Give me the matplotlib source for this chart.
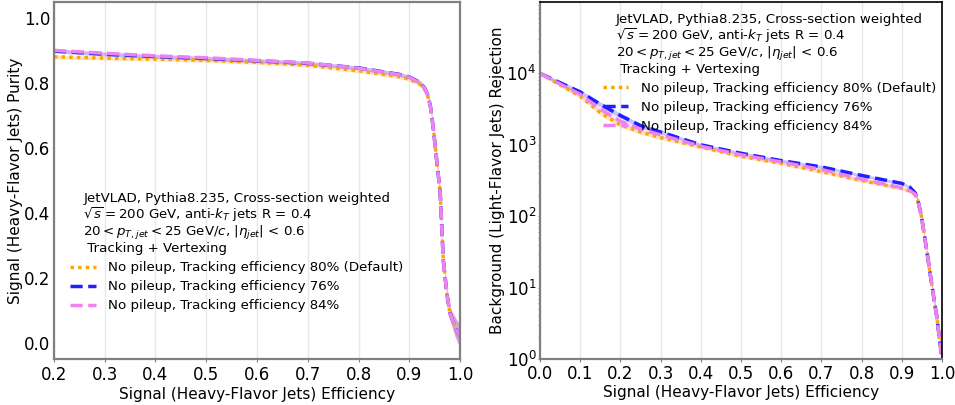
import numpy as np
import matplotlib
matplotlib.use("Agg")
import matplotlib.pyplot as plt

# ---- Purity vs. signal efficiency ----
eff_pur = [0.20, 0.30, 0.40, 0.50, 0.60, 0.70, 0.80, 0.88, 0.90, 0.92, 0.93,
           0.937, 0.942, 0.947, 0.954, 0.961, 0.964, 0.967, 0.974, 0.980, 0.990, 1.00]
pur_default = [0.881, 0.877, 0.874, 0.870, 0.864, 0.855, 0.838, 0.820, 0.812, 0.798, 0.782,
               0.758, 0.724, 0.666, 0.563, 0.461, 0.358, 0.255, 0.153, 0.091, 0.050, 0.019]
pur_eff76 = [0.899, 0.889, 0.882, 0.876, 0.869, 0.861, 0.847, 0.827, 0.819, 0.803, 0.786,
             0.761, 0.726, 0.666, 0.563, 0.461, 0.358, 0.255, 0.153, 0.091, 0.050, 0.019]
pur_eff84 = [0.901, 0.892, 0.884, 0.878, 0.870, 0.862, 0.846, 0.826, 0.818, 0.802, 0.785,
             0.760, 0.725, 0.666, 0.563, 0.461, 0.358, 0.255, 0.153, 0.091, 0.050, 0.019]
pur_unc = [0.006, 0.006, 0.006, 0.006, 0.006, 0.006, 0.006, 0.006, 0.006, 0.007, 0.008,
           0.008, 0.009, 0.010, 0.010, 0.010, 0.010, 0.010, 0.012, 0.018, 0.030, 0.035]

# ---- Light-flavor rejection vs. signal efficiency ----
eff_rej = [0.00, 0.05, 0.10, 0.15, 0.20, 0.25, 0.30, 0.40, 0.50, 0.60, 0.70, 0.80,
           0.90, 0.92, 0.933, 0.940, 0.949, 0.962, 0.974, 0.987, 1.00]
rej_default = [10000, 6900, 4800, 2820, 1900, 1510, 1260, 930, 690, 550, 420, 316,
               245, 225, 200, 165, 98, 33, 11.5, 3.9, 1.0]
rej_eff76 = [10000, 7400, 5500, 3700, 2570, 1860, 1510, 1000, 760, 600, 490, 372,
             288, 255, 212, 168, 98, 33, 11.5, 3.9, 1.0]
rej_eff84 = [10000, 7100, 5100, 3160, 2140, 1650, 1380, 955, 725, 575, 450, 330,
             250, 228, 203, 166, 98, 33, 11.5, 3.9, 1.0]
rej_rel_unc = [0.05, 0.06, 0.07, 0.08, 0.08, 0.07, 0.06, 0.05, 0.05, 0.05, 0.05, 0.05,
               0.05, 0.05, 0.05, 0.06, 0.07, 0.08, 0.10, 0.12, 0.15]

labels = ["No pileup, Tracking efficiency 80% (Default)",
          "No pileup, Tracking efficiency 76%",
          "No pileup, Tracking efficiency 84%"]
colors = ["orange", "#1f1fff", "violet"]
styles = [(0, (1, 1.2)), (0, (3.5, 1.6)), (0, (3.5, 1.6))]

legend_title = ("JetVLAD, Pythia8.235, Cross-section weighted\n"
                r"$\sqrt{s} = 200$ GeV, anti-$k_T$ jets R = 0.4" "\n"
                r"$20 < p_{T,jet} < 25$ GeV/$c$, $|\eta_{jet}|$ < 0.6" "\n"
                " Tracking + Vertexing")

fig = plt.figure(figsize=(9.55, 4.05), dpi=100)
ax1 = fig.add_axes([0.0565, 0.1136, 0.4252, 0.8815])
ax2 = fig.add_axes([0.5654, 0.1136, 0.4210, 0.8815])

grey = "#808080"
leg_kw = dict(frameon=False, fontsize=9.6, title_fontsize=9.6,
              handlelength=1.9, handletextpad=0.95, labelspacing=0.45,
              borderpad=0.2)


def style_title(leg):
    t = leg.get_title()
    t.set_multialignment("left")
    t.set_linespacing(1.0)


# Purity panel
pur_sets = [pur_default, pur_eff76, pur_eff84]
u = np.array(pur_unc)
for vals, c, ls, lab in zip(pur_sets, colors, styles, labels):
    v = np.array(vals)
    ax1.fill_between(eff_pur, v - u, v + u, color=c, alpha=0.25, lw=0)
    ax1.plot(eff_pur, v, color=c, ls=ls, lw=2.5, label=lab)
ax1.set_xlim(0.2, 1.0)
ax1.set_ylim(-0.05, 1.05)
ax1.set_xticks(np.arange(0.2, 1.01, 0.1))
ax1.set_yticks(np.arange(0.0, 1.01, 0.2))
ax1.xaxis.grid(True, color="#e8e8e8", lw=1)
ax1.set_axisbelow(True)
ax1.set_xlabel("Signal (Heavy-Flavor Jets) Efficiency", fontsize=11, labelpad=2)
ax1.set_ylabel("Signal (Heavy-Flavor Jets) Purity", fontsize=11, labelpad=1)
for s in ax1.spines.values():
    s.set_color(grey)
    s.set_linewidth(1.6)
ax1.tick_params(axis="x", labelsize=12, length=2, color=grey, pad=3)
ax1.tick_params(axis="y", labelsize=12, length=1, color=grey, pad=1.5)
leg1 = ax1.legend(title=legend_title, loc="lower left", bbox_to_anchor=(0.017, 0.105),
                  **leg_kw)
style_title(leg1)

# Rejection panel
rej_sets = [rej_default, rej_eff76, rej_eff84]
r = np.array(rej_rel_unc)
for vals, c, ls, lab in zip(rej_sets, colors, styles, labels):
    v = np.array(vals)
    ax2.fill_between(eff_rej, v * (1 - r), v * (1 + r), color=c, alpha=0.25, lw=0)
    ax2.plot(eff_rej, v, color=c, ls=ls, lw=2.5, label=lab)
ax2.set_yscale("log")
ax2.set_xlim(0.0, 1.0)
ax2.set_ylim(1.0, 1e5)
ax2.set_xticks(np.arange(0.0, 1.01, 0.1))
ax2.set_yticks([1, 10, 100, 1000, 10000])
ax2.xaxis.grid(True, color="#e8e8e8", lw=1)
ax2.set_axisbelow(True)
ax2.set_xlabel("Signal (Heavy-Flavor Jets) Efficiency", fontsize=11, labelpad=2)
ax2.set_ylabel("Background (Light-Flavor Jets) Rejection", fontsize=11, labelpad=1)
for side in ["left", "bottom"]:
    ax2.spines[side].set_color(grey)
    ax2.spines[side].set_linewidth(1.6)
for side in ["top", "right"]:
    ax2.spines[side].set_color("black")
    ax2.spines[side].set_linewidth(1.2)
ax2.tick_params(axis="x", labelsize=12, length=2, color=grey, pad=2)
ax2.tick_params(axis="y", labelsize=12, length=1.5, color=grey, pad=1)
ax2.tick_params(which="minor", length=1.5, color=grey)
leg2 = ax2.legend(title=legend_title, loc="upper left", bbox_to_anchor=(0.133, 0.995),
                  **leg_kw)
style_title(leg2)

fig.savefig("out.png", dpi=100)
